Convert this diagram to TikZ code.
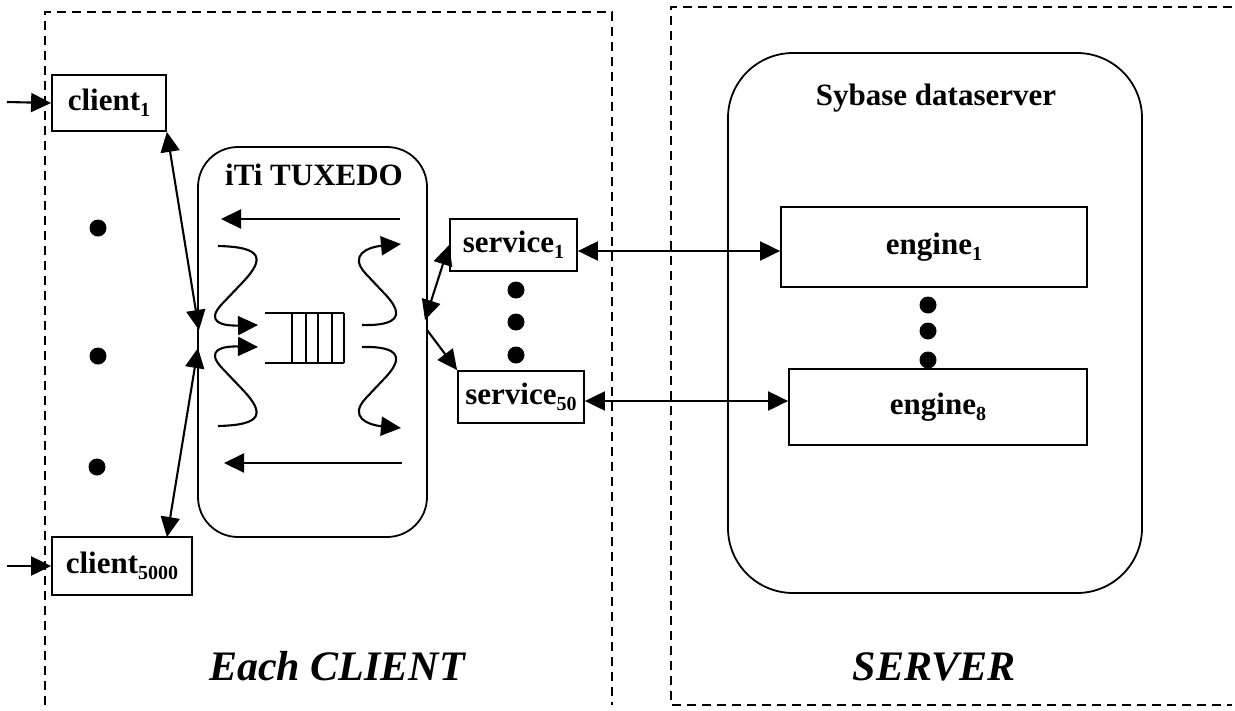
\documentclass[tikz,border=0pt]{standalone}
\usepackage{fontspec}
\setmainfont{Liberation Serif}
\usetikzlibrary{arrows.meta,calc}
\newcommand{\subtx}[1]{\raisebox{-6pt}{\fontsize{20}{22}\selectfont #1}}
\begin{document}
\begin{tikzpicture}[x=1pt,y=-1pt,line width=2.1pt,
  >={Triangle[length=20pt,width=19pt]},
  box/.style={draw,line width=1.8pt,inner sep=0pt,font=\fontsize{31}{36}\selectfont\bfseries},
  lbl/.style={inner sep=0pt,font=\fontsize{31}{36}\selectfont\bfseries},
  biglbl/.style={inner sep=0pt,anchor=base,font=\fontsize{42}{48}\selectfont\bfseries\itshape},
  rbox/.style={draw,line width=1.8pt,inner sep=0pt},
  dashbox/.style={line width=2.1pt,dash pattern=on 9pt off 6pt},
  dot/.style={fill=black}
]
\useasboundingbox (0,0) rectangle (1235,710);
% dashed regions
\draw[dashbox] (45,705) -- (45,12) -- (612,12) -- (612,705);
\draw[dashbox] (1232,7) -- (671,7) -- (671,705) -- (1232,705);
% rounded containers
\node[rbox,rounded corners=40pt,minimum width=229pt,minimum height=390pt] (tux) at (312.5,342) {};
\node[lbl] (tuxlbl) at (314,175) {iTi TUXEDO};
\node[rbox,rounded corners=65pt,minimum width=414pt,minimum height=540pt] (syb) at (935,323) {};
\node[lbl] (syblbl) at (936,98) {Sybase dataserver};
% client boxes
\node[box,minimum width=114pt,minimum height=56pt] (c1) at (109,103) {client\subtx{1}};
\node[box,minimum width=140pt,minimum height=58pt] (c5000) at (122,566) {client\subtx{5000}};
% service boxes
\node[box,minimum width=127pt,minimum height=52pt] (s1) at (513.5,245) {service\subtx{1}};
\node[box,minimum width=126pt,minimum height=52pt] (s50) at (521,397) {service\subtx{50}};
% engine boxes
\node[box,minimum width=306pt,minimum height=80pt] (e1) at (934,247) {engine\subtx{1}};
\node[box,minimum width=298pt,minimum height=76pt] (e8) at (938,407) {engine\subtx{8}};
% dots
\foreach \p in {(98,228),(98,356),(97,467),(516,290),(516,322),(516,355),(928,305),(928,331),(928,360)}
  \fill[dot] \p circle[radius=8.5pt];
% free ends
\coordinate (in1) at (7,102);
\coordinate (in2) at (7,566);
\coordinate (tuxA) at (199,330);
\coordinate (tuxB) at (198,348);
\coordinate (c5top) at (167,537);
\coordinate (tuxC) at (425,320);
\coordinate (tuxD) at (427,330);
% external connectors
\draw[->] (in1) -- (c1.west);
\draw[->] (in2) -- (c5000.west);
\draw[<->] (c1.south east) -- (tuxA);
\draw[<->] (c5top) -- (tuxB);
\draw[<->] (tuxC) -- (s1.west);
\draw[->] (tuxD) -- (s50.north west);
\draw[<->] ([yshift=-6pt]s1.east) -- ([yshift=-4pt]e1.west);
\draw[<->] ([yshift=-4pt]s50.east) -- ([yshift=6pt]e8.west);
% queue
\draw (265,313) -- (344,313) (265,363) -- (344,363);
\foreach \x in {292,306,318,332,344} \draw (\x,313) -- (\x,363);
% straight arrows inside TUXEDO
\coordinate (ta1) at (400,219);
\coordinate (ta2) at (221,219);
\coordinate (tb1) at (402,463);
\coordinate (tb2) at (224,463);
\draw[->] (ta1) -- (ta2);
\draw[->] (tb1) -- (tb2);
% curved arrows
\draw[->] (218,246) .. controls (262,247) and (266,258) .. (242,283) -- (222,304) .. controls (205,322) and (222,326) .. (258,325);
\draw[->] (218,426) .. controls (262,425) and (266,414) .. (242,389) -- (222,368) .. controls (205,350) and (222,346) .. (258,347);
\draw[->] (362,325) .. controls (400,326) and (405,314) .. (383,292) -- (366,274) .. controls (348,255) and (368,247) .. (401,244);
\draw[->] (362,347) .. controls (400,346) and (405,358) .. (383,380) -- (366,398) .. controls (348,417) and (368,425) .. (401,428);
% titles
\node[biglbl] (clientlbl) at (337,680) {Each CLIENT};
\node[biglbl] (serverlbl) at (934,680) {SERVER};
\end{tikzpicture}
\end{document}
